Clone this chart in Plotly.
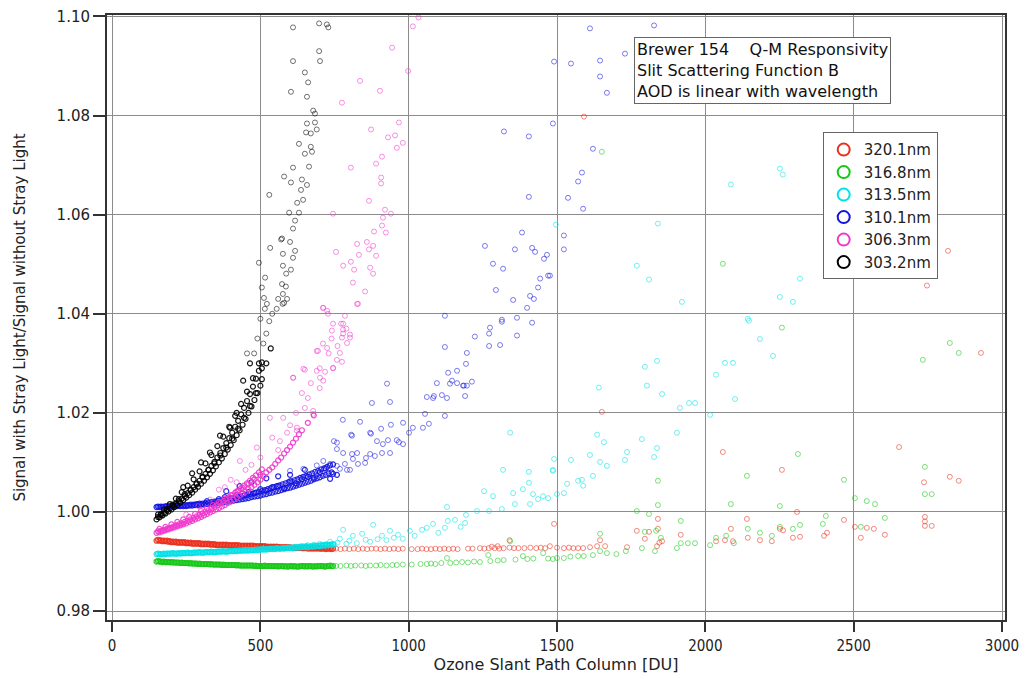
import plotly.graph_objects as go

# ---------------- data ----------------
DENSE_X = [150, 160, 170, 180, 190, 200, 210, 220, 230, 240,
           250, 260, 270, 280, 290, 300, 310, 320, 330, 340,
           350, 360, 370, 380, 390, 400, 410, 420, 430, 440,
           450, 460, 470, 480, 490, 500, 510, 520, 530, 540,
           550, 560, 570, 580, 590, 600, 610, 620, 630, 640,
           650, 660, 670, 680, 690, 700, 710, 720, 730, 740]
DENSE_X2 = [155, 165, 175, 185, 195, 205, 215, 225, 235, 245,
            255, 265, 275, 285, 295, 305, 315, 325, 335, 345,
            355, 365, 375, 385, 395, 405, 415, 425, 435, 445,
            455, 465, 475, 485, 495, 505, 515, 525, 535, 545,
            555, 565, 575, 585, 595, 605, 615, 625, 635, 645,
            655, 665, 675, 685, 695, 705, 715, 725, 735, 745]

# 320.1 nm
RED_DENSE_Y = [0.9942, 0.9942, 0.9941, 0.9941, 0.9940, 0.9939, 0.9939, 0.9938, 0.9938, 0.9938,
               0.9937, 0.9937, 0.9936, 0.9936, 0.9936, 0.9935, 0.9935, 0.9935, 0.9934, 0.9934,
               0.9933, 0.9933, 0.9933, 0.9933, 0.9932, 0.9932, 0.9932, 0.9932, 0.9931, 0.9931,
               0.9931, 0.9931, 0.9931, 0.9930, 0.9930, 0.9930, 0.9930, 0.9929, 0.9929, 0.9929,
               0.9929, 0.9929, 0.9928, 0.9928, 0.9928, 0.9928, 0.9927, 0.9927, 0.9927, 0.9927,
               0.9927, 0.9926, 0.9926, 0.9926, 0.9926, 0.9926, 0.9926, 0.9925, 0.9926, 0.9925]
RED_DENSE_Y2 = [0.9944, 0.9943, 0.9942, 0.9942, 0.9941, 0.9940, 0.9940, 0.9939, 0.9939, 0.9939,
                0.9938, 0.9938, 0.9937, 0.9937, 0.9937, 0.9936, 0.9936, 0.9936, 0.9935, 0.9935,
                0.9934, 0.9934, 0.9934, 0.9934, 0.9933, 0.9933, 0.9933, 0.9933, 0.9932, 0.9932,
                0.9932, 0.9932, 0.9932, 0.9931, 0.9931, 0.9931, 0.9931, 0.9930, 0.9930, 0.9930,
                0.9930, 0.9929, 0.9929, 0.9929, 0.9929, 0.9928, 0.9928, 0.9928, 0.9928, 0.9927,
                0.9928, 0.9927, 0.9927, 0.9927, 0.9927, 0.9926, 0.9927, 0.9926, 0.9926, 0.9926]
RED_BAND_PTS = []
RED_PTS = [(755, 0.9926), (770, 0.9925), (785, 0.9926), (800, 0.9925), (815, 0.9926), (830, 0.9925),
           (845, 0.9926), (860, 0.9925), (875, 0.9926), (890, 0.9926), (905, 0.9925), (920, 0.9926),
           (935, 0.9925), (950, 0.9926), (965, 0.9925), (980, 0.9926), (1010, 0.9925), (1030, 0.9925),
           (1045, 0.9926), (1060, 0.9925), (1075, 0.9925), (1090, 0.9926), (1105, 0.9925), (1120, 0.9926),
           (1135, 0.9925), (1150, 0.9926), (1165, 0.9925), (1200, 0.9926), (1215, 0.9926), (1240, 0.9927),
           (1255, 0.9926), (1270, 0.9927), (1280, 0.9930), (1290, 0.9927), (1300, 0.9931), (1305, 0.9926),
           (1320, 0.9927), (1340, 0.9928), (1340, 0.9943), (1355, 0.9927), (1370, 0.9927), (1390, 0.9927),
           (1410, 0.9928), (1430, 0.9927), (1445, 0.9928), (1460, 0.9927), (1476, 0.9931), (1490, 0.9976),
           (1500, 0.9928), (1523, 0.9927), (1540, 0.9928), (1555, 0.9927), (1571, 0.9927), (1588, 0.9927),
           (1611, 0.9929), (1635, 0.9931), (1645, 0.9943), (1651, 1.0202), (1662, 0.9931), (1736, 0.9929),
           (1769, 0.9962), (1796, 0.9946), (1810, 0.9960), (1837, 0.9931), (1840, 0.9986), (1840, 0.9966),
           (1845, 0.9938), (1854, 0.9941), (1917, 0.9954), (2036, 0.9941), (2059, 1.0121), (2066, 0.9943),
           (2086, 0.9966), (2093, 0.9941), (2140, 0.9986), (2143, 0.9948), (2184, 0.9943), (2224, 0.9941),
           (2251, 0.9966), (2258, 1.0085), (2262, 0.9963), (2295, 0.9948), (2309, 1.0000), (2319, 0.9950),
           (2400, 0.9952), (2410, 0.9958), (2467, 0.9984), (2504, 0.9970), (2524, 0.9948), (2544, 0.9968),
           (2568, 0.9966), (2605, 0.9954), (2653, 1.0131), (2737, 1.0060), (2740, 0.9990), (2740, 0.9981),
           (2740, 0.9972), (2763, 0.9972), (2824, 1.0071), (2854, 1.0063), (2929, 1.0321), (1591, 1.0798),
           (2818, 1.0527), (2747, 1.0457)]

# 316.8 nm
GREEN_DENSE_Y = [0.9900, 0.9900, 0.9899, 0.9899, 0.9899, 0.9898, 0.9898, 0.9898, 0.9897, 0.9897,
                 0.9897, 0.9896, 0.9896, 0.9896, 0.9895, 0.9895, 0.9895, 0.9895, 0.9894, 0.9894,
                 0.9894, 0.9894, 0.9893, 0.9893, 0.9893, 0.9893, 0.9893, 0.9892, 0.9892, 0.9892,
                 0.9892, 0.9892, 0.9892, 0.9891, 0.9891, 0.9891, 0.9891, 0.9891, 0.9891, 0.9891,
                 0.9891, 0.9890, 0.9891, 0.9890, 0.9890, 0.9891, 0.9890, 0.9890, 0.9890, 0.9891,
                 0.9890, 0.9890, 0.9891, 0.9890, 0.9890, 0.9891, 0.9891, 0.9890, 0.9891, 0.9891]
GREEN_DENSE_Y2 = [0.9901, 0.9900, 0.9900, 0.9899, 0.9899, 0.9899, 0.9898, 0.9898, 0.9898, 0.9897,
                  0.9897, 0.9897, 0.9896, 0.9896, 0.9896, 0.9895, 0.9895, 0.9895, 0.9895, 0.9894,
                  0.9894, 0.9894, 0.9894, 0.9893, 0.9893, 0.9893, 0.9893, 0.9893, 0.9892, 0.9892,
                  0.9892, 0.9892, 0.9892, 0.9892, 0.9891, 0.9891, 0.9892, 0.9891, 0.9891, 0.9891,
                  0.9891, 0.9891, 0.9891, 0.9891, 0.9890, 0.9891, 0.9891, 0.9890, 0.9891, 0.9891,
                  0.9891, 0.9891, 0.9890, 0.9891, 0.9891, 0.9891, 0.9890, 0.9891, 0.9892, 0.9891]
GREEN_BAND_PTS = []
GREEN_PTS = [(755, 0.9891), (770, 0.9891), (790, 0.9892), (805, 0.9891), (820, 0.9892), (840, 0.9892),
             (855, 0.9891), (870, 0.9892), (890, 0.9892), (905, 0.9893), (925, 0.9892), (945, 0.9893),
             (960, 0.9893), (980, 0.9894), (1010, 0.9894), (1040, 0.9895), (1061, 0.9895), (1075, 0.9896),
             (1090, 0.9895), (1110, 0.9897), (1129, 0.9907), (1140, 0.9897), (1160, 0.9898), (1180, 0.9899),
             (1200, 0.9898), (1220, 0.9900), (1240, 0.9899), (1268, 0.9913), (1275, 0.9901), (1300, 0.9902),
             (1320, 0.9903), (1342, 0.9941), (1360, 0.9904), (1385, 0.9911), (1400, 0.9905), (1420, 0.9906),
             (1453, 0.9917), (1470, 0.9906), (1486, 0.9905), (1500, 0.9907), (1523, 0.9907), (1545, 0.9910),
             (1571, 0.9911), (1590, 0.9911), (1621, 0.9913), (1645, 0.9956), (1645, 0.9921), (1668, 0.9917),
             (1700, 0.9915), (1732, 0.9921), (1769, 1.0002), (1786, 0.9927), (1796, 0.9960), (1810, 0.9996),
             (1834, 0.9962), (1840, 1.0063), (1840, 1.0014), (1850, 0.9948), (1830, 0.9921), (1904, 0.9927),
             (1917, 0.9982), (1917, 0.9937), (1941, 0.9937), (1965, 0.9937), (2016, 0.9933), (2036, 0.9948),
             (2070, 0.9952), (2086, 1.0016), (2096, 0.9937), (2140, 1.0073), (2143, 0.9966), (2184, 0.9958),
             (2224, 0.9952), (2251, 1.0012), (2258, 1.0372), (2251, 0.9970), (2295, 0.9966), (2312, 1.0117),
             (2319, 0.9974), (2406, 0.9992), (2396, 0.9976), (2467, 1.0065), (2504, 1.0028), (2524, 0.9970),
             (2544, 1.0022), (2572, 1.0016), (2605, 0.9988), (2733, 1.0307), (2740, 1.0091), (2740, 1.0036),
             (2763, 1.0036), (2824, 1.0341), (2854, 1.0321), (1651, 1.0727), (2059, 1.0501)]

# 313.5 nm
CYAN_DENSE_Y = [0.9915, 0.9915, 0.9915, 0.9915, 0.9916, 0.9916, 0.9916, 0.9916, 0.9916, 0.9917,
                0.9917, 0.9917, 0.9917, 0.9918, 0.9918, 0.9918, 0.9918, 0.9919, 0.9919, 0.9919,
                0.9919, 0.9920, 0.9920, 0.9920, 0.9920, 0.9921, 0.9921, 0.9921, 0.9922, 0.9922,
                0.9922, 0.9922, 0.9923, 0.9923, 0.9923, 0.9924, 0.9924, 0.9924, 0.9925, 0.9925,
                0.9925, 0.9926, 0.9926, 0.9926, 0.9927, 0.9927, 0.9927, 0.9928, 0.9928, 0.9929,
                0.9929, 0.9929, 0.9930, 0.9930, 0.9931, 0.9931, 0.9932, 0.9932, 0.9933, 0.9933]
CYAN_DENSE_Y2 = [0.9916, 0.9915, 0.9916, 0.9916, 0.9916, 0.9917, 0.9916, 0.9917, 0.9917, 0.9917,
                 0.9918, 0.9917, 0.9918, 0.9918, 0.9919, 0.9918, 0.9919, 0.9919, 0.9920, 0.9919,
                 0.9920, 0.9920, 0.9921, 0.9920, 0.9921, 0.9921, 0.9922, 0.9922, 0.9922, 0.9923,
                 0.9923, 0.9923, 0.9923, 0.9924, 0.9924, 0.9925, 0.9925, 0.9925, 0.9926, 0.9926,
                 0.9927, 0.9926, 0.9927, 0.9927, 0.9928, 0.9928, 0.9929, 0.9929, 0.9930, 0.9930,
                 0.9931, 0.9930, 0.9931, 0.9932, 0.9932, 0.9933, 0.9933, 0.9934, 0.9934, 0.9935]
CYAN_BAND_PTS = []
CYAN_PTS = [(640, 0.9931), (660, 0.9933), (680, 0.9934), (700, 0.9936), (720, 0.9935), (735, 0.9940),
            (750, 0.9934), (760, 0.9938), (768, 0.9946), (779, 0.9964), (790, 0.9936), (800, 0.9942),
            (812, 0.9952), (825, 0.9937), (843, 0.9956), (855, 0.9944), (870, 0.9940), (880, 0.9974),
            (895, 0.9945), (910, 0.9952), (925, 0.9943), (937, 0.9962), (950, 0.9948), (964, 0.9954),
            (980, 0.9946), (1004, 0.9962), (1020, 0.9952), (1045, 0.9964), (1061, 0.9968), (1082, 0.9976),
            (1100, 0.9958), (1122, 0.9968), (1132, 0.9982), (1129, 1.0010), (1156, 0.9984), (1175, 0.9970),
            (1193, 0.9994), (1190, 0.9978), (1230, 1.0002), (1254, 1.0042), (1271, 1.0002), (1284, 1.0032),
            (1314, 1.0006), (1318, 1.0085), (1342, 1.0160), (1352, 1.0038), (1358, 1.0016), (1385, 1.0046),
            (1405, 1.0081), (1405, 1.0059), (1409, 1.0016), (1419, 1.0036), (1436, 1.0026), (1453, 1.0032),
            (1470, 1.0028), (1486, 1.0085), (1490, 1.0107), (1500, 1.0036), (1486, 1.0083), (1523, 1.0038),
            (1534, 1.0057), (1547, 1.0105), (1571, 1.0063), (1584, 1.0065), (1588, 1.0053), (1611, 1.0115),
            (1621, 1.0073), (1635, 1.0156), (1641, 1.0251), (1645, 1.0101), (1658, 1.0141), (1668, 1.0093),
            (1729, 1.0105), (1736, 1.0121), (1786, 1.0147), (1796, 1.0293), (1803, 1.0255), (1827, 1.0111),
            (1837, 1.0129), (1837, 1.0305), (1854, 1.0238), (1904, 1.0160), (1914, 1.0210), (1945, 1.0220),
            (1965, 1.0220), (2016, 1.0196), (2036, 1.0277), (2066, 1.0301), (2093, 1.0301), (2100, 1.0228),
            (2147, 1.0386), (2184, 1.0349), (2228, 1.0315), (2295, 1.0424), (1921, 1.0424), (2251, 1.0693),
            (2261, 1.0681), (2086, 1.0661), (1840, 1.0582), (1496, 1.0580), (1769, 1.0497), (1810, 1.0469),
            (2319, 1.0471), (2251, 1.0434), (2143, 1.0390), (2524, 1.0479)]

# 310.1 nm
BLUE_DENSE_Y = [1.0010, 1.0010, 1.0010, 1.0011, 1.0011, 1.0011, 1.0011, 1.0012, 1.0012, 1.0012,
                1.0012, 1.0013, 1.0013, 1.0014, 1.0014, 1.0015, 1.0015, 1.0016, 1.0016, 1.0017,
                1.0018, 1.0018, 1.0019, 1.0020, 1.0021, 1.0022, 1.0023, 1.0024, 1.0025, 1.0026,
                1.0027, 1.0028, 1.0030, 1.0031, 1.0032, 1.0033, 1.0035, 1.0036, 1.0038, 1.0039,
                1.0041, 1.0042, 1.0044, 1.0046, 1.0048, 1.0049, 1.0051, 1.0053, 1.0055, 1.0057,
                1.0059, 1.0061, 1.0063, 1.0066, 1.0068, 1.0070, 1.0073, 1.0075, 1.0078, 1.0080]
BLUE_DENSE_Y2 = [1.0011, 1.0011, 1.0011, 1.0012, 1.0012, 1.0012, 1.0013, 1.0013, 1.0013, 1.0014,
                 1.0014, 1.0015, 1.0015, 1.0016, 1.0017, 1.0017, 1.0018, 1.0019, 1.0020, 1.0021,
                 1.0022, 1.0023, 1.0024, 1.0025, 1.0026, 1.0027, 1.0029, 1.0030, 1.0031, 1.0033,
                 1.0034, 1.0036, 1.0037, 1.0039, 1.0041, 1.0042, 1.0044, 1.0046, 1.0048, 1.0050,
                 1.0052, 1.0054, 1.0056, 1.0058, 1.0060, 1.0062, 1.0064, 1.0066, 1.0069, 1.0071,
                 1.0073, 1.0076, 1.0078, 1.0081, 1.0083, 1.0086, 1.0088, 1.0091, 1.0094, 1.0096]
BLUE_BAND_PTS = [(320, 1.0022), (360, 1.0026), (380, 1.0030), (385, 1.0042), (400, 1.0028), (420, 1.0034),
                 (430, 1.0052), (440, 1.0037), (460, 1.0040), (470, 1.0060), (480, 1.0038), (500, 1.0046),
                 (520, 1.0043), (520, 1.0068), (540, 1.0050), (560, 1.0052), (560, 1.0072), (580, 1.0048),
                 (600, 1.0062), (600, 1.0075), (620, 1.0058), (640, 1.0066), (650, 1.0085), (660, 1.0071),
                 (680, 1.0069), (700, 1.0080), (720, 1.0088), (735, 1.0067), (745, 1.0077), (758, 1.0075)]
BLUE_PTS = [(600, 1.0083), (645, 1.0087), (690, 1.0094), (712, 1.0103), (735, 1.0097), (758, 1.0093),
            (785, 1.0097), (829, 1.0097), (853, 1.0099), (768, 1.0087), (792, 1.0085), (802, 1.0085),
            (758, 1.0127), (779, 1.0119), (809, 1.0117), (826, 1.0119), (870, 1.0117), (886, 1.0113),
            (910, 1.0119), (937, 1.0119), (812, 1.0107), (856, 1.0109), (748, 1.0143), (806, 1.0156),
            (873, 1.0158), (907, 1.0168), (893, 1.0143), (913, 1.0137), (930, 1.0145), (960, 1.0145),
            (967, 1.0141), (981, 1.0137), (1001, 1.0160), (758, 1.0140), (809, 1.0154), (870, 1.0160),
            (778, 1.0186), (836, 1.0182), (940, 1.0176), (981, 1.0180), (1014, 1.0170), (876, 1.0220),
            (937, 1.0222), (927, 1.0259), (1055, 1.0198), (1048, 1.0170), (1068, 1.0178), (1122, 1.0194),
            (1061, 1.0232), (1085, 1.0234), (1112, 1.0236), (1129, 1.0230), (1190, 1.0234), (1095, 1.0260),
            (1139, 1.0259), (1163, 1.0260), (1186, 1.0255), (1196, 1.0255), (1213, 1.0263), (1082, 1.0230),
            (1146, 1.0265), (1183, 1.0255), (1133, 1.0281), (1163, 1.0285), (1193, 1.0299), (1196, 1.0321),
            (1223, 1.0354), (1122, 1.0333), (1122, 1.0396), (1271, 1.0335), (1308, 1.0337), (1271, 1.0360),
            (1274, 1.0372), (1314, 1.0384), (1365, 1.0392), (1365, 1.0356), (1399, 1.0412), (1416, 1.0382),
            (1314, 1.0388), (1321, 1.0768), (1405, 1.0758), (1405, 1.0636), (1382, 1.0564), (1257, 1.0537),
            (1358, 1.0530), (1416, 1.0533), (1426, 1.0525), (1466, 1.0519), (1456, 1.0511), (1284, 1.0501),
            (1318, 1.0491), (1443, 1.0471), (1470, 1.0477), (1294, 1.0448), (1436, 1.0453), (1352, 1.0428),
            (1409, 1.0436), (1422, 1.0430), (1611, 1.0976), (1827, 1.0982), (1729, 1.0925), (1490, 1.0909),
            (1547, 1.0905), (1645, 1.0911), (1645, 1.0879), (1668, 1.0846), (1486, 1.0784), (1621, 1.0733),
            (1584, 1.0685), (1571, 1.0667), (1537, 1.0634), (1588, 1.0612), (1523, 1.0558), (1523, 1.0530),
            (1476, 1.0477)]

# 306.3 nm
MAGENTA_DENSE_Y = [0.9958, 0.9959, 0.9961, 0.9963, 0.9965, 0.9967, 0.9969, 0.9971, 0.9973, 0.9975,
                   0.9977, 0.9980, 0.9982, 0.9985, 0.9987, 0.9990, 0.9993, 0.9996, 0.9999, 1.0002,
                   1.0005, 1.0008, 1.0011, 1.0014, 1.0018, 1.0021, 1.0025, 1.0029, 1.0033, 1.0037,
                   1.0041, 1.0046, 1.0050, 1.0055, 1.0060, 1.0065]
MAGENTA_DENSE_Y2 = [0.9961, 0.9962, 0.9964, 0.9966, 0.9968, 0.9970, 0.9973, 0.9975, 0.9977, 0.9980,
                    0.9982, 0.9985, 0.9988, 0.9991, 0.9994, 0.9997, 1.0000, 1.0003, 1.0007, 1.0010,
                    1.0014, 1.0018, 1.0022, 1.0026, 1.0030, 1.0034, 1.0039, 1.0043, 1.0048, 1.0053,
                    1.0058, 1.0063, 1.0069, 1.0074, 1.0080, 1.0086]
MAGENTA_BAND_PTS = [(160, 0.9966), (180, 0.9970), (200, 0.9975), (220, 0.9980), (240, 0.9985), (260, 0.9990),
                    (280, 0.9996), (300, 1.0002), (320, 1.0008), (340, 1.0014), (360, 1.0020), (380, 1.0027),
                    (400, 1.0034), (420, 1.0041), (440, 1.0049), (460, 1.0057), (480, 1.0066), (500, 1.0075),
                    (510, 1.0072), (520, 1.0080), (530, 1.0085), (540, 1.0090), (550, 1.0097), (560, 1.0104),
                    (570, 1.0110), (580, 1.0118), (590, 1.0125), (600, 1.0132), (610, 1.0140), (620, 1.0148),
                    (630, 1.0157), (640, 1.0165), (660, 1.0180), (680, 1.0195)]
MAGENTA_PTS = [(250, 0.9995), (290, 1.0012),
               (330, 1.0025), (360, 1.0045), (380, 1.0050), (400, 1.0065), (420, 1.0060), (431, 1.0103),
               (450, 1.0085), (470, 1.0095), (488, 1.0130), (500, 1.0110), (532, 1.0190), (540, 1.0150),
               (560, 1.0125), (566, 1.0143), (577, 1.0190), (590, 1.0160), (600, 1.0175), (611, 1.0271),
               (620, 1.0200), (623, 1.0164), (623, 1.0170), (640, 1.0240), (645, 1.0289), (650, 1.0210),
               (660, 1.0230), (670, 1.0260), (678, 1.0198), (678, 1.0204), (690, 1.0325), (700, 1.0250),
               (700, 1.0290), (712, 1.0265), (712, 1.0412), (725, 1.0406), (730, 1.0320), (740, 1.0350),
               (745, 1.0291), (760, 1.0335), (779, 1.0360), (790, 1.0370), (802, 1.0352), (779, 1.0380),
               (826, 1.0420), (1033, 1.0998), (1014, 1.0980), (944, 1.0937), (998, 1.0890), (836, 1.0870),
               (903, 1.0850), (775, 1.0826), (967, 1.0786), (873, 1.0772), (930, 1.0756), (954, 1.0760),
               (960, 1.0735), (980, 1.0745), (910, 1.0717), (890, 1.0703), (805, 1.0695), (907, 1.0675),
               (907, 1.0663), (866, 1.0628), (745, 1.0602), (920, 1.0610), (940, 1.0602), (913, 1.0594),
               (910, 1.0578), (883, 1.0566), (923, 1.0564), (826, 1.0541), (859, 1.0545), (755, 1.0525),
               (880, 1.0537), (866, 1.0530), (890, 1.0517), (832, 1.0519), (805, 1.0505), (779, 1.0497),
               (816, 1.0489), (870, 1.0493), (880, 1.0481), (812, 1.0463), (853, 1.0445), (829, 1.0420),
               (711, 1.0412), (728, 1.0400), (785, 1.0396), (745, 1.0380), (772, 1.0380), (741, 1.0366),
               (779, 1.0368), (775, 1.0352), (802, 1.0358), (792, 1.0341), (711, 1.0340), (725, 1.0331),
               (694, 1.0325), (768, 1.0321), (758, 1.0307), (775, 1.0303), (650, 1.0287), (690, 1.0285),
               (718, 1.0283), (745, 1.0290), (610, 1.0271), (701, 1.0271)]

# 303.2 nm
BLACK_DENSE_Y = [0.9985, 0.9989, 0.9993, 0.9997, 1.0001, 1.0005, 1.0010, 1.0014, 1.0019, 1.0024,
                 1.0029, 1.0034, 1.0039, 1.0045, 1.0051, 1.0057, 1.0063, 1.0070, 1.0077, 1.0084,
                 1.0092, 1.0100, 1.0108, 1.0117, 1.0126, 1.0135, 1.0145, 1.0155, 1.0165, 1.0176,
                 1.0188, 1.0200, 1.0213, 1.0226, 1.0240, 1.0255]
BLACK_DENSE_Y2 = [0.9990, 0.9994, 0.9998, 1.0003, 1.0007, 1.0012, 1.0017, 1.0022, 1.0027, 1.0032,
                  1.0038, 1.0044, 1.0050, 1.0056, 1.0063, 1.0070, 1.0077, 1.0085, 1.0093, 1.0101,
                  1.0110, 1.0119, 1.0129, 1.0139, 1.0149, 1.0160, 1.0172, 1.0184, 1.0197, 1.0210,
                  1.0224, 1.0238, 1.0253, 1.0269, 1.0285, 1.0302]
BLACK_BAND_PTS = [(155, 0.9995), (175, 1.0005), (195, 1.0016), (215, 1.0027), (235, 1.0040), (255, 1.0053),
                  (275, 1.0066), (295, 1.0082), (315, 1.0098), (335, 1.0115), (355, 1.0133), (375, 1.0152),
                  (395, 1.0172), (415, 1.0194), (435, 1.0218), (455, 1.0243), (475, 1.0270), (495, 1.0300),
                  (165, 0.9996), (185, 1.0006), (205, 1.0015), (225, 1.0026), (245, 1.0036), (265, 1.0045),
                  (285, 1.0058), (305, 1.0071), (325, 1.0085), (345, 1.0098), (365, 1.0114), (385, 1.0130),
                  (405, 1.0148), (425, 1.0168), (445, 1.0190), (465, 1.0214), (485, 1.0240), (505, 1.0268),
                  (240, 1.0050), (270, 1.0078), (300, 1.0100), (330, 1.0120), (364, 1.0154), (398, 1.0170),
                  (420, 1.0200), (442, 1.0265), (465, 1.0300), (505, 1.0290), (520, 1.0300), (535, 1.0330)]
BLACK_PTS = [(455, 1.0320), (479, 1.0320), (490, 1.0350),
             (500, 1.0390), (510, 1.0340), (515, 1.0410), (520, 1.0360),
             (530, 1.0385), (540, 1.0400), (555, 1.0410), (560, 1.0430), (575, 1.0420),
             (590, 1.0430), (512, 1.0432), (522, 1.0420), (505, 1.0453), (516, 1.0473), (495, 1.0503),
             (533, 1.0533), (530, 1.0640), (570, 1.0550), (610, 1.0978), (698, 1.0986), (724, 1.0984),
             (729, 1.0978), (698, 1.0930), (701, 1.0910), (610, 1.0910), (650, 1.0887), (661, 1.0867),
             (603, 1.0848), (657, 1.0838), (678, 1.0810), (684, 1.0804), (657, 1.0784), (684, 1.0786),
             (654, 1.0766), (670, 1.0764), (690, 1.0772), (630, 1.0743), (670, 1.0737), (650, 1.0723),
             (674, 1.0727), (610, 1.0695), (664, 1.0697), (580, 1.0677), (603, 1.0665), (640, 1.0671),
             (657, 1.0660), (637, 1.0650), (624, 1.0624), (644, 1.0630), (597, 1.0604), (630, 1.0604),
             (617, 1.0588), (610, 1.0572), (573, 1.0552), (600, 1.0545), (576, 1.0521), (617, 1.0527),
             (610, 1.0513), (576, 1.0497), (603, 1.0489), (587, 1.0481), (573, 1.0460), (586, 1.0455),
             (576, 1.0440), (580, 1.0422)]

SERIES = [
    ("320.1nm", DENSE_X, RED_DENSE_Y, DENSE_X2, RED_DENSE_Y2, RED_BAND_PTS, RED_PTS, (235, 45, 25)),
    ("316.8nm", DENSE_X, GREEN_DENSE_Y, DENSE_X2, GREEN_DENSE_Y2, GREEN_BAND_PTS, GREEN_PTS, (20, 200, 20)),
    ("313.5nm", DENSE_X, CYAN_DENSE_Y, DENSE_X2, CYAN_DENSE_Y2, CYAN_BAND_PTS, CYAN_PTS, (0, 225, 230)),
    ("310.1nm", DENSE_X, BLUE_DENSE_Y, DENSE_X2, BLUE_DENSE_Y2, BLUE_BAND_PTS, BLUE_PTS, (20, 20, 225)),
    ("306.3nm", DENSE_X[:36], MAGENTA_DENSE_Y, DENSE_X2[:36], MAGENTA_DENSE_Y2, MAGENTA_BAND_PTS,
     MAGENTA_PTS, (240, 55, 205)),
    ("303.2nm", DENSE_X[:36], BLACK_DENSE_Y, DENSE_X2[:36], BLACK_DENSE_Y2, BLACK_BAND_PTS,
     BLACK_PTS, (0, 0, 0)),
]

X_TICKS = [0, 500, 1000, 1500, 2000, 2500, 3000]
Y_TICKS = [0.98, 1.00, 1.02, 1.04, 1.06, 1.08, 1.10]
Y_TICK_TEXT = ["0.98", "1.00", "1.02", "1.04", "1.06", "1.08", "1.10"]

# ---------------- figure ----------------
fig = go.Figure()
for name, dx, dy, dx2, dy2, band, pts, (r, g, b) in SERIES:
    # dense band of overlapping observations
    fig.add_trace(go.Scatter(
        x=list(dx) + list(dx2) + [p[0] for p in band],
        y=list(dy) + list(dy2) + [p[1] for p in band],
        mode="markers", showlegend=False, name=name,
        marker=dict(symbol="circle-open", size=5,
                    color=f"rgba({r},{g},{b},0.9)",
                    line=dict(width=1.2, color=f"rgba({r},{g},{b},0.9)")),
    ))
    # sparser observations
    fig.add_trace(go.Scatter(
        x=[p[0] for p in pts], y=[p[1] for p in pts],
        mode="markers", showlegend=False, name=name,
        marker=dict(symbol="circle-open", size=5,
                    color=f"rgba({r},{g},{b},0.55)",
                    line=dict(width=1, color=f"rgba({r},{g},{b},0.55)")),
    ))
for name, dx, dy, dx2, dy2, band, pts, (r, g, b) in SERIES:
    fig.add_trace(go.Scatter(
        x=[None], y=[None], mode="markers", name=name, showlegend=True,
        marker=dict(symbol="circle-open", size=12,
                    color=f"rgb({r},{g},{b})",
                    line=dict(width=2, color=f"rgb({r},{g},{b})")),
    ))

COND = "DejaVu Sans Condensed, Liberation Sans Narrow, DejaVu Sans"

fig.update_layout(
    width=1027, height=679,
    margin=dict(l=107, r=22, t=15, b=59, autoexpand=False),
    paper_bgcolor="white", plot_bgcolor="white",
    showlegend=True,
    legend=dict(x=0.797, y=0.806, xanchor="left", yanchor="top",
                bgcolor="white", bordercolor="#666", borderwidth=1,
                font=dict(family="DejaVu Sans", size=15, color="#222"),
                itemsizing="trace", tracegroupgap=0),
    xaxis=dict(range=[-17, 3010], tickvals=X_TICKS,
               ticktext=[str(v) for v in X_TICKS], automargin=False,
               showgrid=True, gridcolor="#8c8c8c", gridwidth=1,
               zeroline=False, showline=True, linecolor="#333", linewidth=2,
               mirror=True, ticks="outside", ticklen=10, tickcolor="#333",
               tickwidth=1.5, ticklabelstandoff=1,
               tickfont=dict(family=COND, size=15, color="#222"),
               title=dict(text="Ozone Slant Path Column [DU]",
                          font=dict(family="DejaVu Sans", size=16, color="#222"),
                          standoff=0)),
    yaxis=dict(range=[0.9782, 1.1003], tickvals=Y_TICKS, ticktext=Y_TICK_TEXT,
               automargin=False,
               showgrid=True, gridcolor="#8c8c8c", gridwidth=1,
               zeroline=False, showline=True, linecolor="#333", linewidth=2,
               mirror=True, ticks="outside", ticklen=12, tickcolor="#333",
               tickwidth=1.5,
               tickfont=dict(family="DejaVu Sans", size=15, color="#222"),
               title=dict(text="Signal with Stray Light/Signal without Stray Light",
                          font=dict(family="DejaVu Sans", size=15, color="#222"),
                          standoff=27)),
)

fig.add_annotation(
    xref="paper", yref="paper", x=0.587, y=0.9636, xanchor="left", yanchor="top",
    align="left", showarrow=False,
    text="Brewer 154\u00a0\u00a0\u00a0\u00a0Q-M Responsivity<br>Slit Scattering Function B<br>AOD is linear with wavelength",
    font=dict(family="DejaVu Sans", size=16, color="#111"),
    bordercolor="#666", borderwidth=1, borderpad=2, bgcolor="white",
)

fig.write_html("out.html")
